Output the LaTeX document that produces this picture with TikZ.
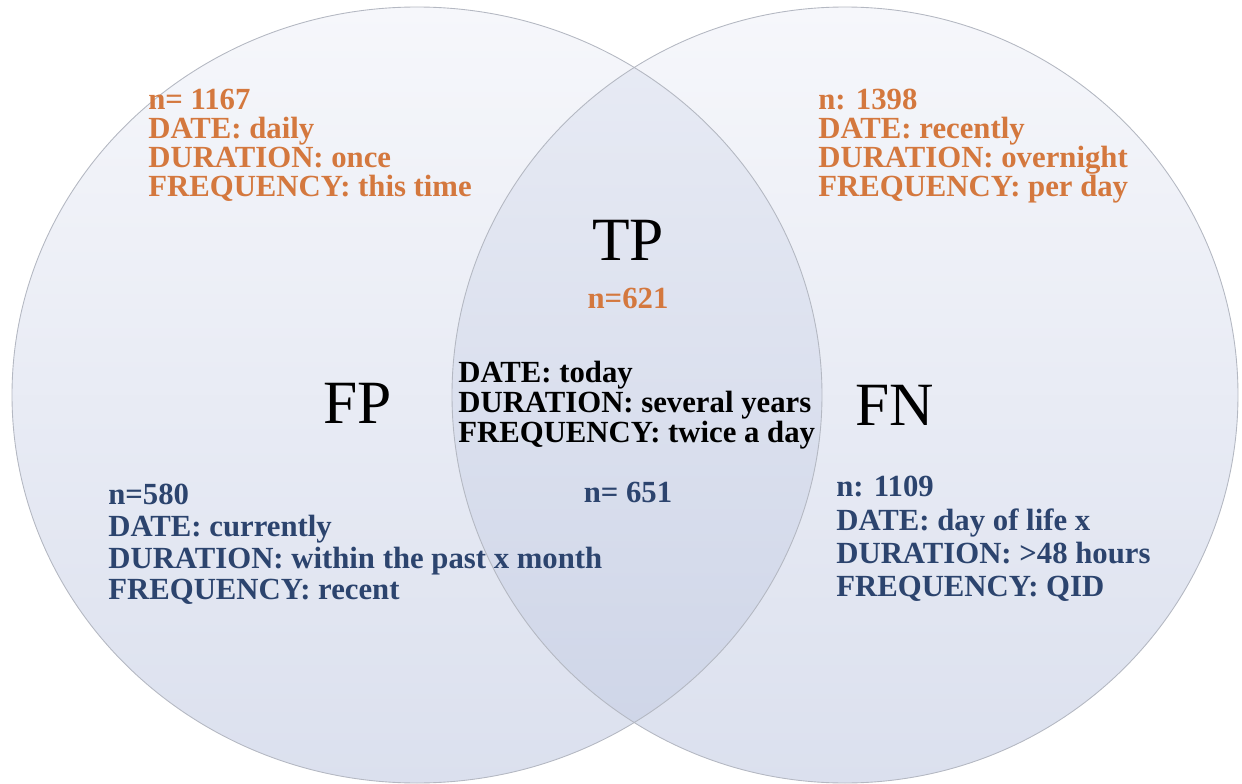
\documentclass[tikz,border=0pt]{standalone}
\usepackage{fontspec}
\setmainfont{Liberation Serif}
\usetikzlibrary{positioning}
\definecolor{setorange}{RGB}{212,120,62}
\definecolor{setblue}{RGB}{44,68,110}
\definecolor{setedge}{RGB}{180,184,194}
\definecolor{settop}{RGB}{246,247,251}
\definecolor{setbottom}{RGB}{219,224,238}
\definecolor{lenstop}{RGB}{233,236,245}
\definecolor{lensbottom}{RGB}{205,212,231}
\tikzset{
  every node/.style={inner sep=0},
  setinfo/.style={align=left, anchor=north west, font=\bfseries\fontsize{17.5}{#1}\selectfont},
  setinfo/.default=16.4,
  setname/.style={font=\fontsize{35}{35}\selectfont},
  setcount/.style={font=\bfseries\fontsize{17.5}{17.5}\selectfont},
}

\begin{document}
\begin{tikzpicture}[x=0.02cm, y=-0.02cm]
            \useasboundingbox (0,0) rectangle (1242,784);

            % Set centres
            \coordinate (fpc) at (417,395);
            \coordinate (fnc) at (845,395);

            % Circles
            \shade[top color=settop, bottom color=setbottom] (fpc) ellipse [x radius=405, y radius=388];
            \shade[top color=settop, bottom color=setbottom] (fnc) ellipse [x radius=393, y radius=388];
            \begin{scope}
              \clip (fpc) ellipse [x radius=405, y radius=388];
              \shade[top color=lenstop, bottom color=lensbottom] (fnc) ellipse [x radius=393, y radius=388];
            \end{scope}
            \draw[setedge, line width=0.5pt] (fpc) ellipse [x radius=405, y radius=388];
            \draw[setedge, line width=0.5pt] (fnc) ellipse [x radius=393, y radius=388];

            % Set names
            \node[setname] (tp) at (628,240) {TP};
            \node[setname] (fp) at (358,403) {FP};
            \node[setname] (fn) at (895,405) {FN};

            % Upper texts
            \node[setinfo, text=setorange] (fptop) at (148,89) {n= 1167\\DATE: daily\\DURATION: once\\FREQUENCY: this time};
            \node[setinfo, text=setorange] (fntop) at (818,89) {n: 1398\\DATE: recently\\DURATION: overnight\\FREQUENCY: per day};
            \node[setcount, text=setorange] (tptop) at (628,298) {n=621};

            % Shared text
            \node[setinfo=15.6, text=black] (tpmid) at (458,361) {DATE: today\\DURATION: several years\\FREQUENCY: twice a day};

            % Lower texts
            \node[setcount, text=setblue] (tplow) at (628,492) {n= 651};
            \node[setinfo=18, text=setblue] (fplow) at (108,484) {n=580\\DATE: currently\\DURATION: within the past x month\\FREQUENCY: recent};
            \node[setinfo=19, text=setblue] (fnlow) at (836,476) {n: 1109\\DATE: day of life x\\DURATION: >48 hours\\FREQUENCY: QID};
\end{tikzpicture}
\end{document}
